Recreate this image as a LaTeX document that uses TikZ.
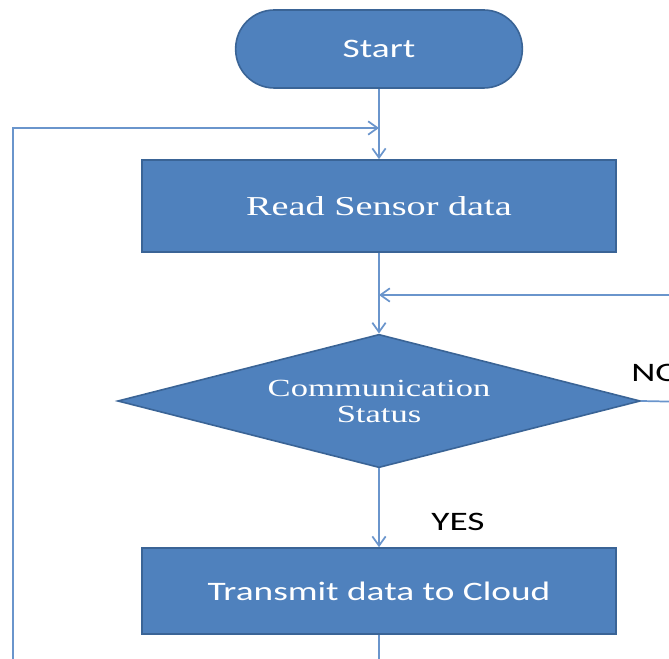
\documentclass[tikz,border=0pt]{standalone}
\usepackage{fontspec}
\usepackage{tikz}
\usetikzlibrary{shapes.geometric,arrows.meta}
\newfontfamily\flowsans[FakeStretch=1.4]{Carlito}
\newfontfamily\flowserif[FakeStretch=1.4]{Liberation Serif}
\definecolor{boxfill}{HTML}{4F81BD}
\definecolor{boxedge}{HTML}{3A6496}
\definecolor{flowline}{HTML}{6A95CC}
\tikzset{
  startbox/.style={draw=boxedge,fill=boxfill,line width=1.2pt,rounded corners=29pt,
    minimum width=215pt,minimum height=58.5pt,text=white,font=\flowsans\fontsize{20}{20}\selectfont},
  procbox/.style={draw=boxedge,fill=boxfill,line width=1.2pt,minimum width=355.5pt,
    text=white},
  decision/.style={diamond,draw=boxedge,fill=boxfill,line width=1.2pt,aspect=3.9,inner sep=0pt,
    minimum width=392pt,minimum height=100pt,text=white,align=center,
    font=\flowserif\fontsize{18.5}{19.5}\selectfont},
  flow/.style={draw=flowline,line width=1.3pt,-{Straight Barb[length=7pt,width=10pt]}},
  plain/.style={draw=flowline,line width=1.3pt},
  answer/.style={font=\flowsans\fontsize{20}{20}\selectfont,text=black,inner sep=0pt}
}
\begin{document}
\begin{tikzpicture}[x=0.75pt,y=-0.75pt]
\useasboundingbox (0,0) rectangle (669,659);
% shapes
\node[startbox] (start) at (379,49) {Start};
\node[procbox,minimum height=69pt,font=\flowserif\fontsize{20.5}{20.5}\selectfont] (read) at (379,206) {Read Sensor data};
\node[decision] (comm) at (379,401) {Communication\\Status};
\node[procbox,minimum height=64.5pt,font=\flowsans\fontsize{20}{20}\selectfont] (send) at (379,591) {Transmit data to Cloud};
% loop points
\coordinate (loopin) at (379,128);
\coordinate (loopcorner) at (13,128);
\coordinate (loopend) at (13,670);
\coordinate (retryin) at (379,295);
\coordinate (retryend) at (690,295);
\coordinate (noend) at (690,402);
\coordinate (sendend) at (379,670);
% connectors
\draw[flow] (start) -- (read);
\draw[flow] (loopend) -- (loopcorner) -- (loopin);
\draw[flow] (read) -- (comm);
\draw[flow] (retryend) -- (retryin);
\draw[plain] (comm.east) -- (noend);
\draw[flow] (comm) -- (send);
\draw[plain] (send) -- (sendend);
% labels
\node[answer,anchor=base west] (no) at (631,382) {NO};
\node[answer,anchor=base] (yes) at (458,531) {YES};
\end{tikzpicture}
\end{document}
